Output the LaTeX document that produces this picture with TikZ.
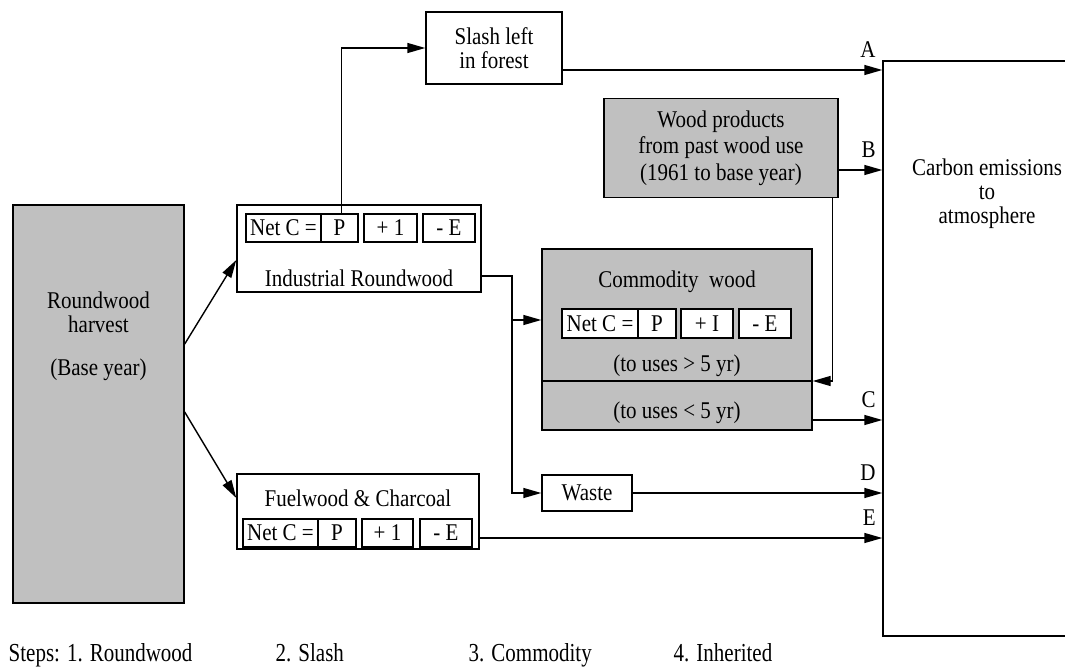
\documentclass[tikz,border=0pt]{standalone}
\usepackage{fontspec}
\usepackage{graphicx}
\setmainfont{Liberation Serif}[FakeStretch=0.875]
\usetikzlibrary{arrows.meta,calc}
\definecolor{boxgray}{HTML}{C0C0C0}
\begin{document}
\begin{tikzpicture}[x=1pt,y=-1pt, line width=1.4pt,
  font=\fontsize{24}{24}\selectfont,
  wbox/.style={draw, fill=white, inner sep=0pt},
  gbox/.style={draw, fill=boxgray, inner sep=0pt},
  txt/.style={inner sep=0pt, align=center},
  arr/.style={-{Triangle[length=18pt,width=10pt]}},
  lbl/.style={inner sep=0pt, anchor=south east, xshift=-6pt, yshift=12pt},
  steptxt/.style={inner sep=0pt, anchor=base west}
]
\useasboundingbox (0,0) rectangle (1065,671);

% Roundwood harvest
\node[gbox, minimum width=171pt, minimum height=398pt] (rh) at (98.5,404) {};
\node[txt] (rhtext) at (98.5,312.5) {Roundwood\\harvest};
\node[txt] (rhyear) at (98.5,370) {(Base year)};

% Industrial roundwood
\node[wbox, minimum width=244pt, minimum height=87pt] (ind) at (359,248.5) {};
\node[wbox, minimum width=75pt, minimum height=28pt] (indN) at (283.5,228) {Net C =};
\node[wbox, minimum width=37pt, minimum height=28pt] (indP) at (339.5,228) {P};
\node[wbox, minimum width=53pt, minimum height=28pt] (indI) at (390.5,228) {+ 1};
\node[wbox, minimum width=52pt, minimum height=28pt] (indE) at (449,228) {- E};
\node[txt] (indtext) at (359,278) {Industrial Roundwood};

% Slash
\node[wbox, minimum width=136pt, minimum height=72pt, txt] (slash) at (494,48) {Slash left\\in forest};

% Wood products
\node[gbox, minimum width=234pt, minimum height=99pt, txt] (wp) at (721,148) {Wood products\\[2.5pt]from past wood use\\[2.5pt](1961 to base year)};

% Carbon emissions
\node[wbox, minimum width=217pt, minimum height=575pt] (carbon) at (991.5,348.5) {};
\node[txt] (ctext) at (987,194) {Carbon emissions\\to\\atmosphere};

% Commodity wood
\node[gbox, minimum width=270pt, minimum height=181pt] (comm) at (677,339.5) {};
\draw (comm.west |- 0,381) -- (comm.east |- 0,381);
\node[txt] (commtext) at (677,282) {Commodity\ \ wood};
\node[wbox, minimum width=76pt, minimum height=29pt] (comN) at (600,323.5) {Net C =};
\node[wbox, minimum width=38pt, minimum height=29pt] (comP) at (657,323.5) {P};
\node[wbox, minimum width=52pt, minimum height=29pt] (comI) at (707,323.5) {+ I};
\node[wbox, minimum width=52pt, minimum height=29pt] (comE) at (765,323.5) {- E};
\node[txt] (comlong) at (677,366) {(to uses > 5 yr)};
\node[txt] (comshort) at (677,413) {(to uses < 5 yr)};

% Waste
\node[wbox, minimum width=90pt, minimum height=36pt] (waste) at (587,493) {Waste};

% Fuelwood
\node[wbox, minimum width=242pt, minimum height=75pt] (fuel) at (358,511.5) {};
\node[txt] (fueltext) at (358,498) {Fuelwood \& Charcoal};
\node[wbox, minimum width=75pt, minimum height=28pt] (fuN) at (280.5,533) {Net C =};
\node[wbox, minimum width=38pt, minimum height=28pt] (fuP) at (337,533) {P};
\node[wbox, minimum width=51pt, minimum height=28pt] (fuI) at (387.5,533) {+ 1};
\node[wbox, minimum width=52pt, minimum height=28pt] (fuE) at (446,533) {- E};

% Steps
\node[steptxt] (s1) at (8,661) {\scalebox{1}[1.08]{Steps: 1. Roundwood}};
\node[steptxt] (s2) at (275,661) {\scalebox{1}[1.08]{2. Slash}};
\node[steptxt] (s3) at (468,661) {\scalebox{1}[1.08]{3. Commodity}};
\node[steptxt] (s4) at (673,661) {\scalebox{1}[1.08]{4. Inherited}};

% Connectors
\coordinate (rhA) at (rh.east |- 0,344);
\coordinate (rhB) at (rh.east |- 0,412);
\draw[arr] (rhA) -- (ind.west |- 0,260);
\draw[arr] (rhB) -- (fuel.west |- 0,498);

\draw[arr] ([xshift=2pt]indP.north) |- (slash.west);

\coordinate (aS) at ([yshift=-22pt]slash.east);
\draw[arr] (aS) -- (aS -| carbon.west) node[lbl] {A};

\coordinate (bS) at ([yshift=-22pt]wp.east);
\draw[arr] (bS) -- (bS -| carbon.west) node[lbl] {B};

\coordinate (wpd) at ([xshift=-6pt]wp.south east);
\draw[arr] (wpd) |- ([yshift=-41.5pt]comm.east);

\coordinate (cS) at ([yshift=-80.5pt]comm.east);
\draw[arr] (cS) -- (cS -| carbon.west) node[lbl] {C};

\coordinate (indout) at ([yshift=-27.5pt]ind.east);
\coordinate (j1) at (512,276);
\draw[arr] (indout) -- (j1) |- (waste.west);
\coordinate (commin) at ([yshift=19.5pt]comm.west);
\draw[arr] (j1 |- commin) -- (commin);

\draw[arr] (waste.east) -- (waste.east -| carbon.west) node[lbl] {D};

\coordinate (eS) at ([yshift=-26.5pt]fuel.east);
\draw[arr] (eS) -- (eS -| carbon.west) node[lbl] {E};
\end{tikzpicture}
\end{document}
